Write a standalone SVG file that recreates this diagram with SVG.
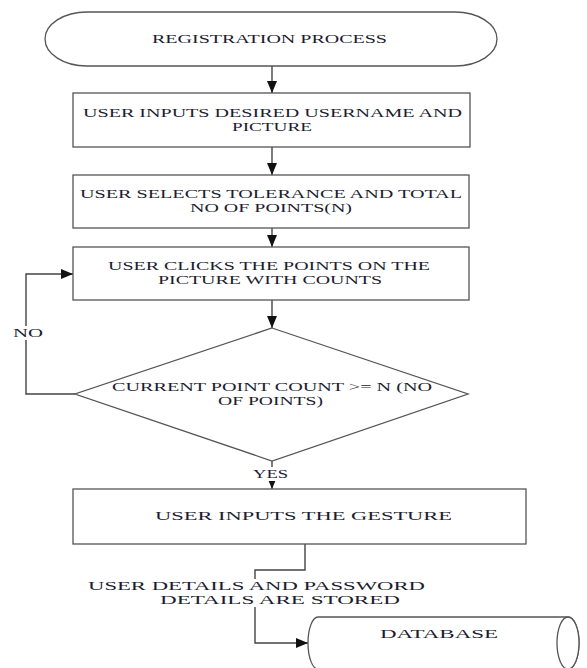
<svg xmlns="http://www.w3.org/2000/svg" width="587" height="668" viewBox="0 0 587 668">
<style>
.s{fill:#fff;stroke:#555;stroke-width:1.3}
.c{fill:none;stroke:#444;stroke-width:1.4}
.bg{fill:#fff}
.t{font-family:"Liberation Serif","Times New Roman",serif;font-size:12px;fill:#1c1c30}
</style>
<defs>
<marker id="ah" viewBox="0 0 12 10" refX="12" refY="5" markerWidth="12" markerHeight="10" markerUnits="userSpaceOnUse" orient="auto">
<path d="M0,0 L12,5 L0,10 Z" fill="#111"/>
</marker>
</defs>
<rect width="587" height="668" fill="#fff"/>
<g id="connectors">
<path class="c" d="M272,66 V93" marker-end="url(#ah)"/>
<path class="c" d="M272,147 V175" marker-end="url(#ah)"/>
<path class="c" d="M272,228 V247" marker-end="url(#ah)"/>
<path class="c" d="M272,300 V328" marker-end="url(#ah)"/>
<path class="c" d="M75,394 H26 V274 H73" marker-end="url(#ah)"/>
<path class="c" d="M272,461 V489" marker-end="url(#ah)"/>
<path class="c" d="M305,544 V570 H255 V643 H308" marker-end="url(#ah)"/>
<rect class="bg" x="12" y="326" width="32" height="14"/>
<text class="t" x="13" y="337" textLength="30" lengthAdjust="spacingAndGlyphs">NO</text>
<rect class="bg" x="252" y="467" width="37" height="14"/>
<text class="t" x="253" y="478" textLength="35" lengthAdjust="spacingAndGlyphs">YES</text>
<rect class="bg" x="250" y="579" width="10" height="28"/>
<text class="t" x="88" y="590" textLength="337" lengthAdjust="spacingAndGlyphs">USER DETAILS AND PASSWORD</text>
<text class="t" x="160" y="604" textLength="240" lengthAdjust="spacingAndGlyphs">DETAILS ARE STORED</text>
</g>
<g id="start">
<rect class="s" x="45" y="12" width="452" height="54" rx="42" ry="27"/>
<text class="t" x="152" y="43" textLength="235" lengthAdjust="spacingAndGlyphs">REGISTRATION PROCESS</text>
</g>
<g id="input-username">
<rect class="s" x="73" y="93" width="397" height="54"/>
<text class="t" x="83" y="117" textLength="379" lengthAdjust="spacingAndGlyphs">USER INPUTS DESIRED USERNAME AND</text>
<text class="t" x="232" y="131" textLength="80" lengthAdjust="spacingAndGlyphs">PICTURE</text>
</g>
<g id="select-tolerance">
<rect class="s" x="73" y="175" width="396" height="53"/>
<text class="t" x="80" y="198" textLength="382" lengthAdjust="spacingAndGlyphs">USER SELECTS TOLERANCE AND TOTAL</text>
<text class="t" x="190" y="212" textLength="162" lengthAdjust="spacingAndGlyphs">NO OF POINTS(N)</text>
</g>
<g id="click-points">
<rect class="s" x="73" y="247" width="396" height="53"/>
<text class="t" x="108" y="270" textLength="322" lengthAdjust="spacingAndGlyphs">USER CLICKS THE POINTS ON THE</text>
<text class="t" x="158" y="284" textLength="224" lengthAdjust="spacingAndGlyphs">PICTURE WITH COUNTS</text>
</g>
<g id="decision">
<polygon class="s" points="272,328 468,394 272,461 75,394"/>
<text class="t" x="112" y="391" textLength="320" lengthAdjust="spacingAndGlyphs">CURRENT POINT COUNT &gt;= N (NO</text>
<text class="t" x="218" y="405" textLength="105" lengthAdjust="spacingAndGlyphs">OF POINTS)</text>
</g>
<g id="gesture">
<rect class="s" x="73" y="489" width="453" height="55"/>
<text class="t" x="155" y="520" textLength="297" lengthAdjust="spacingAndGlyphs">USER INPUTS THE GESTURE</text>
</g>
<g id="database">
<path class="s" d="M318,617 H568 A11,26 0 0 1 568,669 H318 A10,26 0 0 1 318,617 Z"/>
<ellipse class="s" cx="568" cy="643" rx="11" ry="26"/>
<text class="t" x="380" y="638" textLength="118" lengthAdjust="spacingAndGlyphs">DATABASE</text>
</g>
</svg>
